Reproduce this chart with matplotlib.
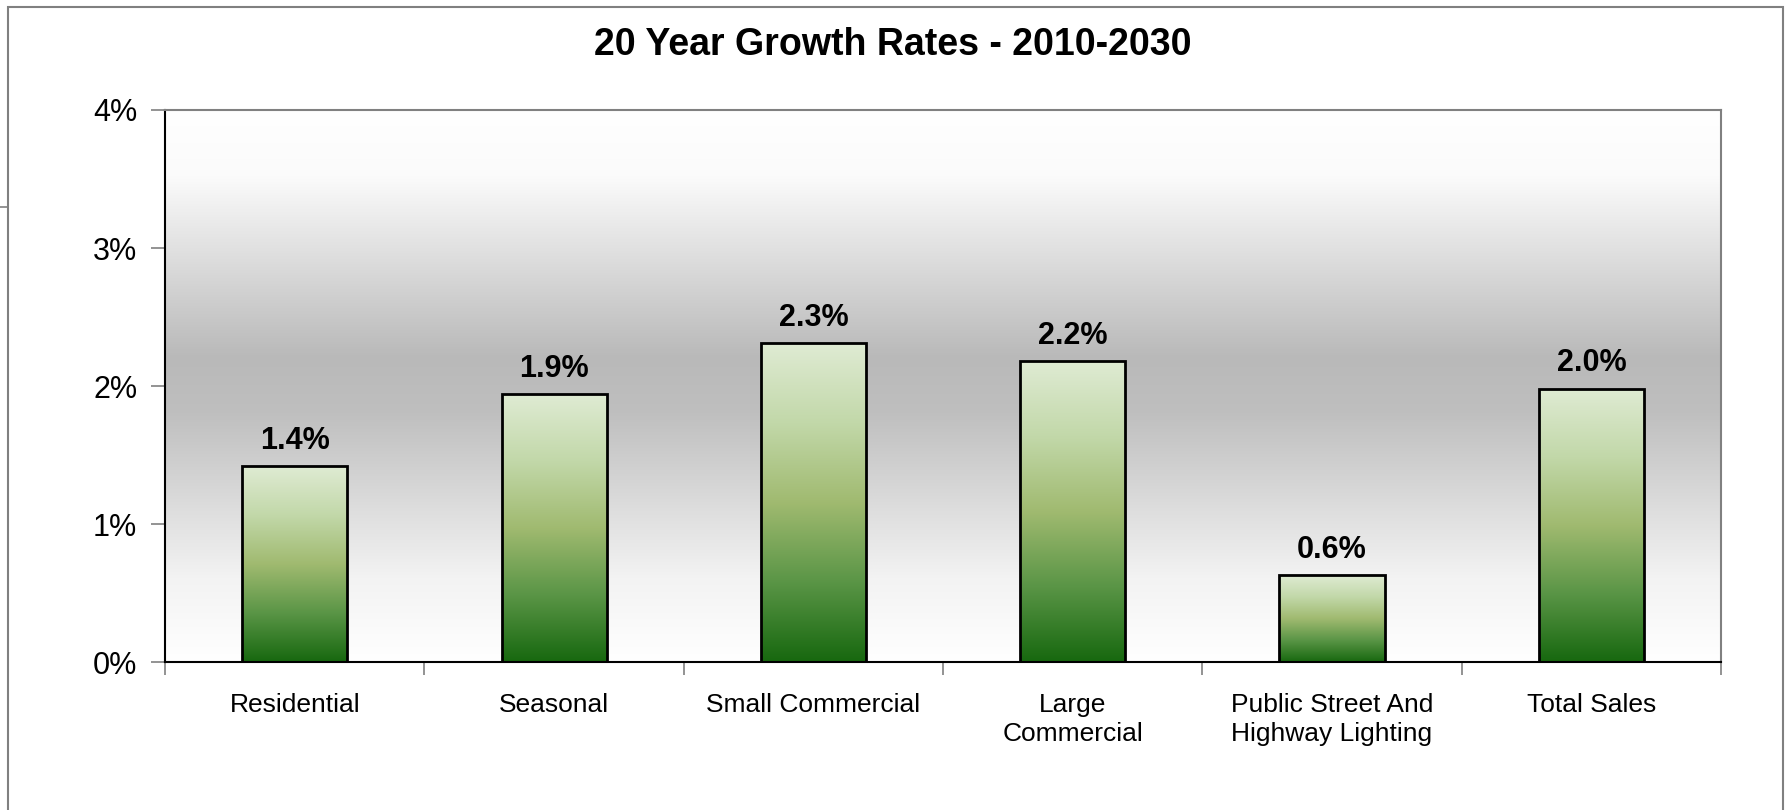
import numpy as np
import matplotlib.pyplot as plt
from matplotlib.colors import LinearSegmentedColormap
from matplotlib.lines import Line2D
from matplotlib.patches import Rectangle

categories = ['Residential', 'Seasonal', 'Small Commercial', 'Large\nCommercial',
              'Public Street And\nHighway Lighting', 'Total Sales']
growth = [1.42, 1.94, 2.31, 2.18, 0.63, 1.98]
yticks = [0, 1, 2, 3, 4]
ytick_labels = ['0%', '1%', '2%', '3%', '4%']

plt.rcParams['font.family'] = ['Liberation Sans', 'DejaVu Sans']

fig = plt.figure(figsize=(17.86, 8.10), dpi=100)
ax = fig.add_axes([0.0924, 0.1827, 0.8712, 0.6815])

# grey band behind the bars, white at top and bottom
bg = LinearSegmentedColormap.from_list('bg', [(0.0, '#ffffff'), (0.12, '#fbfbfb'),
                                              (0.45, '#b9b9b9'), (0.55, '#bfbfbf'),
                                              (0.85, '#f3f3f3'), (1.0, '#ffffff')])
ax.imshow(np.linspace(0, 1, 256).reshape(-1, 1), cmap=bg, aspect='auto',
          extent=[0, 1, 0, 1], transform=ax.transAxes, zorder=0)

green = LinearSegmentedColormap.from_list('green', [(0.0, '#17680f'), (0.25, '#5a9546'),
                                                    (0.5, '#a0ba70'), (0.75, '#c2d8a9'),
                                                    (1.0, '#dfebd3')])
x = np.arange(len(categories))
bars = ax.bar(x, growth, width=0.405, facecolor='none', edgecolor='black',
              linewidth=2, zorder=3)
for b in bars:
    x0, w, h = b.get_x(), b.get_width(), b.get_height()
    im = ax.imshow(np.linspace(0, 1, 256).reshape(-1, 1), cmap=green, origin='lower',
                   aspect='auto', extent=[x0, x0 + w, 0, h], zorder=2)
    im.set_clip_path(Rectangle((x0, 0), w, h, transform=ax.transData))
    ax.text(x0 + w / 2, h + 0.075, '%.1f%%' % h, ha='center', va='bottom',
            fontsize=22, fontweight='bold', zorder=4)

ax.set_xlim(-0.5, len(categories) - 0.5)
ax.set_ylim(0, 4)

ax.set_yticks(yticks)
ax.set_yticklabels(ytick_labels, fontsize=22)
ax.set_xticks(x)
ax.set_xticklabels(categories, fontsize=19, linespacing=1.3)
ax.tick_params(axis='x', length=0, pad=22)
ax.set_xticks(np.arange(-0.5, len(categories)), minor=True)
ax.tick_params(axis='x', which='minor', length=9, width=1.2, color='#808080', direction='out')
ax.tick_params(axis='y', length=10, width=1.2, color='#808080', pad=10)

for side in ['top', 'right']:
    ax.spines[side].set_color('#808080')
    ax.spines[side].set_linewidth(1.5)
for side in ['left', 'bottom']:
    ax.spines[side].set_color('black')
    ax.spines[side].set_linewidth(1.5)

fig.text(0.5, 0.944, '20 Year Growth Rates - 2010-2030', ha='center', va='center',
         fontsize=27, fontweight='bold')

# chart frame
fig.add_artist(Rectangle((8 / 1786, -0.05), 1775 / 1786, 1.05 - 7 / 810, fill=False,
                         edgecolor='#808080', linewidth=1.5, transform=fig.transFigure))
fig.add_artist(Line2D([0, 8 / 1786], [1 - 207 / 810, 1 - 207 / 810], color='#808080',
                      linewidth=1.2, transform=fig.transFigure))

fig.savefig('out.png', dpi=100)
